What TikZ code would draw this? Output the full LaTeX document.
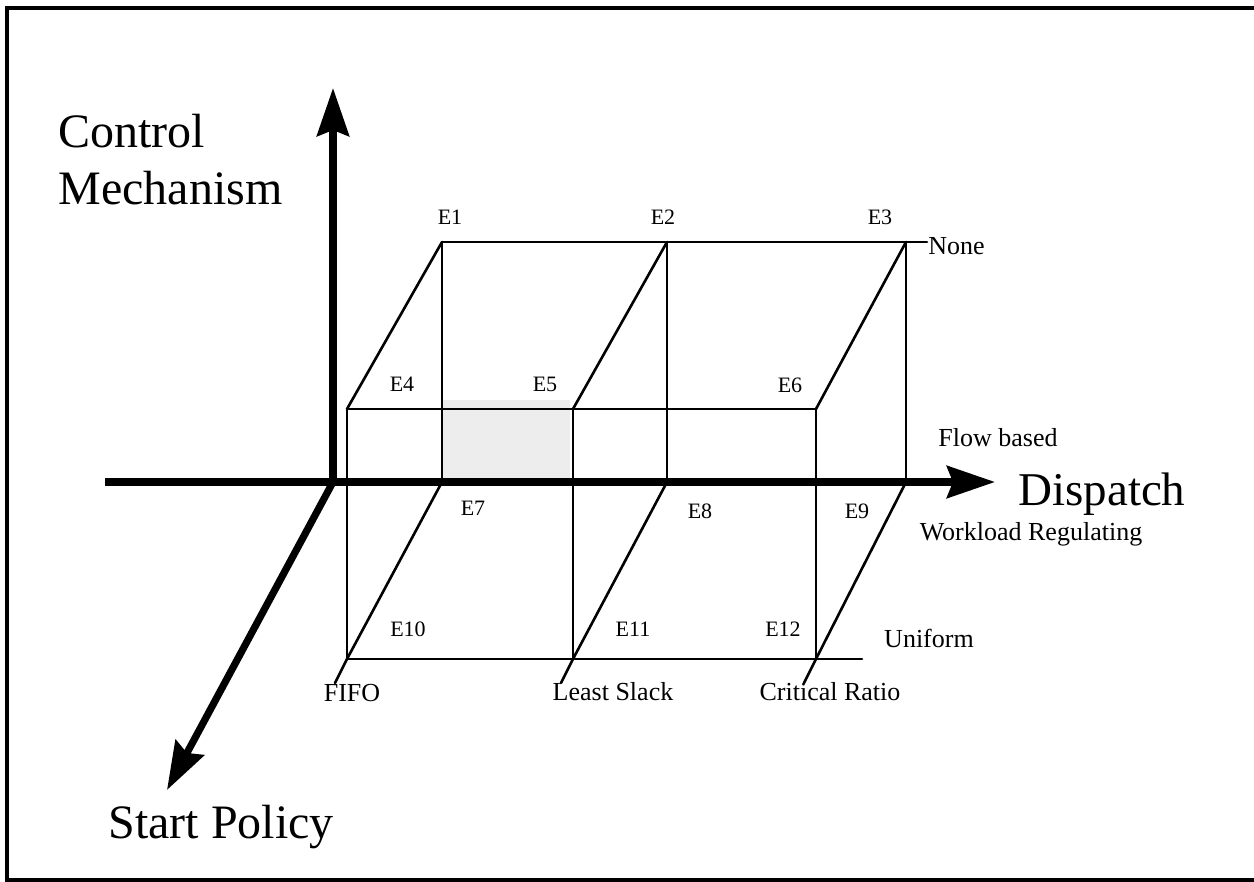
\documentclass[tikz,border=0pt]{standalone}
\usepackage{fontspec}
\setmainfont{Liberation Serif}
\usetikzlibrary{arrows.meta}
\begin{document}
\begin{tikzpicture}[x=0.5pt,y=-0.5pt,
  gridline/.style={line width=1.3pt, line cap=round, line join=round},
  axisline/.style={line width=3.6pt,-{Stealth[length=24pt,width=16pt,inset=3pt]}},
  frameline/.style={line width=2pt},
  elabel/.style={font=\fontsize{11}{13}\selectfont, anchor=base, inner sep=0pt},
  vlabel/.style={font=\fontsize{13}{15}\selectfont, anchor=base, inner sep=0pt},
  biglabel/.style={font=\fontsize{24}{28}\selectfont, anchor=base west, inner sep=0pt}]
\useasboundingbox (0,0) rectangle (1254,882);
% frame
\coordinate (fTR) at (1254,8);
\coordinate (fTL) at (7,8);
\coordinate (fBL) at (7,880);
\coordinate (fBR) at (1254,880);
\draw[frameline] (fTR) -- (fTL) -- (fBL) -- (fBR);
% shaded cell
\fill[gray!14] (443,400) rectangle (570,478);
% vertices
\coordinate (T1) at (442,242);
\coordinate (T2) at (667,242);
\coordinate (T3) at (906,242);
\coordinate (TE) at (927,242);
\coordinate (M1) at (347,409);
\coordinate (M2) at (573,409);
\coordinate (M3) at (816,409);
\coordinate (A1) at (442,482);
\coordinate (A2) at (667,482);
\coordinate (A3) at (906,482);
\coordinate (B1) at (347,659);
\coordinate (B2) at (573,659);
\coordinate (B3) at (816,659);
\coordinate (BE) at (862,659);
\coordinate (F1) at (335,683);
\coordinate (F2) at (561,683);
\coordinate (F3) at (804,683);
% grid lines
\draw[gridline] (T1) -- (TE);
\draw[gridline] (M1) -- (M3);
\draw[gridline] (B1) -- (BE);
\draw[gridline] (M1) -- (B1);
\draw[gridline] (M2) -- (B2);
\draw[gridline] (M3) -- (B3);
\draw[gridline] (T1) -- (A1);
\draw[gridline] (T2) -- (A2);
\draw[gridline] (T3) -- (A3);
\draw[gridline] (M1) -- (T1);
\draw[gridline] (M2) -- (T2);
\draw[gridline] (M3) -- (T3);
\draw[gridline] (A1) -- (B1) -- (F1);
\draw[gridline] (A2) -- (B2) -- (F2);
\draw[gridline] (A3) -- (B3) -- (F3);
% axes
\coordinate (O) at (333,482);
\coordinate (Otop) at (333,88);
\coordinate (Oleft) at (105,482);
\coordinate (Oright) at (995,482);
\coordinate (Odiag) at (167,790);
\draw[axisline] (O) -- (Otop);
\draw[axisline] (Oleft) -- (Oright);
\draw[axisline] (O) -- (Odiag);
% axis labels
\node[biglabel] (cm1) at (58,148) {Control};
\node[biglabel] (cm2) at (58,205) {Mechanism};
\node[biglabel, font=\fontsize{23.5}{28}\selectfont] (disp) at (1018,505) {Dispatch};
\node[biglabel] (sp) at (108,838) {Start Policy};
% E labels
\node[elabel] (e1) at (450,225) {E1};
\node[elabel] (e2) at (663,225) {E2};
\node[elabel] (e3) at (880,225) {E3};
\node[elabel] (e4) at (402,392) {E4};
\node[elabel] (e5) at (545,392) {E5};
\node[elabel] (e6) at (790,393) {E6};
\node[elabel] (e7) at (473,516) {E7};
\node[elabel] (e8) at (700,518) {E8};
\node[elabel] (e9) at (857,518) {E9};
\node[elabel] (e10) at (408,636) {E10};
\node[elabel] (e11) at (633,636) {E11};
\node[elabel] (e12) at (783,636) {E12};
% value labels
\node[vlabel, anchor=base west] (none) at (928,255) {None};
\node[vlabel] (flow) at (998,446) {Flow based};
\node[vlabel] (work) at (1031,540) {Workload Regulating};
\node[vlabel] (unif) at (929,647) {Uniform};
\node[vlabel] (fifo) at (352,701) {FIFO};
\node[vlabel] (ls) at (613,700) {Least Slack};
\node[vlabel] (cr) at (830,700) {Critical Ratio};
\end{tikzpicture}
\end{document}
